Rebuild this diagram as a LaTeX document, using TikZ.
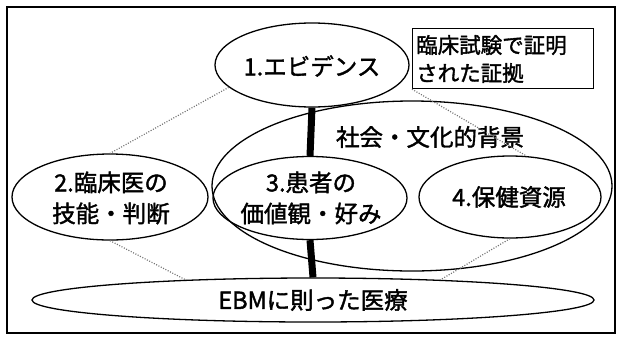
\documentclass[tikz,border=0pt]{standalone}
\usepackage{fontspec}
\setmainfont{Noto Sans CJK JP}[BoldFont={Noto Sans CJK JP}, BoldFeatures={FakeBold=1.6}]
\usetikzlibrary{shapes.geometric}
\tikzset{
  ell/.style={draw=black, ellipse, line width=1.3pt, inner sep=0pt},
  lbl/.style={align=center, font=\fontsize{23.5}{31}\selectfont\bfseries, inner sep=0pt},
  boxlbl/.style={align=left, font=\fontsize{21.5}{28}\selectfont\bfseries, inner sep=0pt},
  thick bar/.style={line width=7pt, black},
  dots/.style={black!55, line width=1.2pt, dash pattern=on 1pt off 1.6pt}
}
\begin{document}
\begin{tikzpicture}[x=1pt, y=-1pt]
\useasboundingbox (0,0) rectangle (617,343);
\draw[line width=1.3pt] (7,7) rectangle (615,333);

% ellipses
\node[ell, minimum width=400pt, minimum height=170pt] (bg) at (412,186) {};
\node[ell, minimum width=194pt, minimum height=84pt] (e1) at (312,65) {};
\node[ell, minimum width=196pt, minimum height=86pt] (e2) at (110,197) {};
\node[ell, minimum width=194pt, minimum height=83pt] (e3) at (310,198) {};
\node[ell, minimum width=182pt, minimum height=82pt] (e4) at (510,197) {};
\node[ell, minimum width=562pt, minimum height=44pt] (ebm) at (313,300) {};
\node[draw, line width=1.2pt, fill=white, minimum width=181pt, minimum height=60pt, anchor=north west] (box) at (412,28) {};

% labels
\node[lbl] (t1) at (312,66) {1.エビデンス};
\node[lbl] (t2) at (111,198) {2.臨床医の\\技能・判断};
\node[lbl] (t3) at (311,198) {3.患者の\\価値観・好み};
\node[lbl] (t4) at (509,197) {4.保健資源};
\node[lbl] (tbg) at (430,137) {社会・文化的背景};
\node[lbl] (tebm) at (313,300) {EBMに則った医療};
\node[boxlbl, anchor=west] (tbox) at (416,59) {臨床試験で証明\\された証拠};

% thick bars
\draw[thick bar] (e1.south) -- (e3.north);
\draw[thick bar] (e3.south) -- (ebm.north);

% dotted links
\draw[dots] (e1.195) -- (e2.north);
\draw[dots] (box.south west) -- (e4.68);
\draw[dots] (e2.south) -- (ebm.171);
\draw[dots] (e4.south) -- (ebm.9);
\end{tikzpicture}
\end{document}
